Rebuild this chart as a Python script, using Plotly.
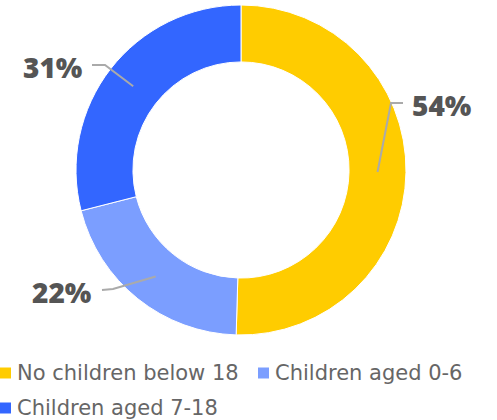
import math
import plotly.graph_objects as go

# ---- data ----
categories = ["No children below 18", "Children aged 0-6", "Children aged 7-18"]
values = [54, 22, 31]
colors = ["#FFCC00", "#7B9EFF", "#3366FF"]

# ---- layout constants (pixels) ----
W, H = 497, 420
CX, CY, R_OUT = 241, 170, 165
HOLE = 0.655
R_MID = R_OUT * (1 + HOLE) / 2

# label elbow, line end, text x, text y, anchor (pixels)
label_pos = [
    ((391, 103), (403, 103), 410, 105, "left"),
    ((113, 289), (102, 290), 94, 292, "right"),
    ((105, 65), (92, 65), 85, 67, "right"),
]

def px(x):
    return x / W

def py(y):
    return 1 - y / H

fig = go.Figure()
fig.add_trace(go.Pie(
    labels=categories,
    values=values,
    hole=HOLE,
    sort=False,
    direction="clockwise",
    rotation=0,
    textinfo="none",
    hoverinfo="label+value",
    marker=dict(colors=colors, line=dict(color="white", width=1)),
    showlegend=False,
    domain=dict(x=[px(CX - R_OUT), px(CX + R_OUT)], y=[py(CY + R_OUT), py(CY - R_OUT)]),
))

shapes = []
annotations = []
total = sum(values)
cum = 0
for v, (elbow, end, tx, ty, anc) in zip(values, label_pos):
    mid = (cum + v / 2) / total * 2 * math.pi
    cum += v
    sx = CX + R_MID * math.sin(mid)
    sy = CY - R_MID * math.cos(mid)
    path = f"M{px(sx)},{py(sy)} L{px(elbow[0])},{py(elbow[1])} L{px(end[0])},{py(end[1])}"
    shapes.append(dict(type="path", xref="paper", yref="paper", path=path,
                       line=dict(color="#AAAAAA", width=2)))
    annotations.append(dict(
        x=px(tx), y=py(ty), xref="paper", yref="paper",
        text=f"{v}%", showarrow=False, xanchor=anc, yanchor="middle",
        font=dict(family="Open Sans", size=28, color="#555555", weight=800),
    ))

# legend (manual)
legend_pos = [(0, 373), (258, 373), (0, 408)]
for name, col, (lx, ly) in zip(categories, colors, legend_pos):
    shapes.append(dict(type="rect", xref="paper", yref="paper",
                       x0=px(lx), x1=px(lx + 11), y0=py(ly - 5.5), y1=py(ly + 5.5),
                       fillcolor=col, line=dict(width=0)))
    annotations.append(dict(
        x=px(lx + 15), y=py(ly), xref="paper", yref="paper",
        text=name, showarrow=False, xanchor="left", yanchor="middle",
        font=dict(family="DejaVu Sans", size=21, color="#666666"),
    ))

fig.update_layout(
    width=W, height=H,
    margin=dict(l=0, r=0, t=0, b=0),
    paper_bgcolor="white",
    plot_bgcolor="white",
    shapes=shapes,
    annotations=annotations,
)

fig.write_html("out.html",
               config={"displayModeBar": False},
               post_script="document.body.style.margin='0';document.body.style.padding='0';")
